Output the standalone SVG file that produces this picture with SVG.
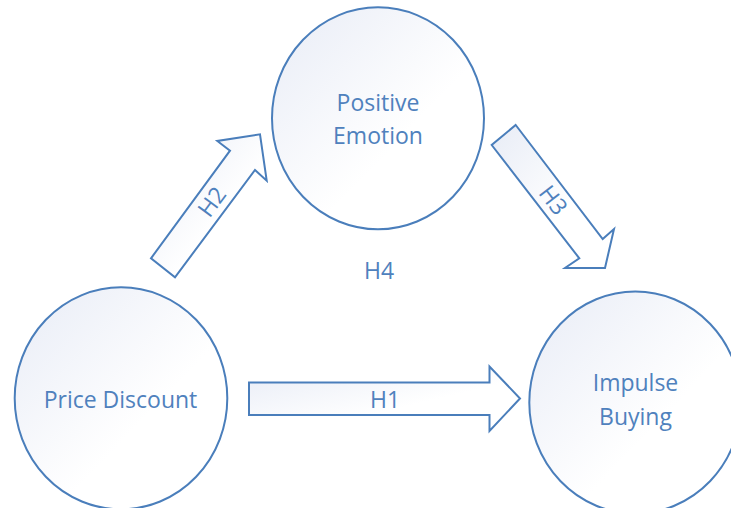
<svg xmlns="http://www.w3.org/2000/svg" width="731" height="508" viewBox="0 0 731 508">
<style>
.shape{stroke:#4A7EBB;stroke-width:2;fill:url(#g);stroke-linejoin:miter}
.lbl{font-family:"Open Sans","Noto Sans",sans-serif;font-size:23px;fill:#4F81BD;text-anchor:middle}
</style>
<defs>
<linearGradient id="g" x1="0" y1="0" x2="1" y2="1">
<stop offset="0" stop-color="#E8ECF6"/>
<stop offset="0.6" stop-color="#FFFFFF"/>
<stop offset="1" stop-color="#FFFFFF"/>
</linearGradient>
</defs>
<rect width="731" height="508" fill="#FFFFFF"/>
<g id="node-positive-emotion">
<ellipse class="shape" cx="378" cy="118.3" rx="106" ry="111"/>
<text class="lbl" x="378" y="111">Positive</text>
<text class="lbl" x="378" y="144">Emotion</text>
</g>
<g id="node-price-discount">
<ellipse class="shape" cx="121" cy="398.3" rx="106.3" ry="111"/>
<text class="lbl" x="120.5" y="408.3">Price Discount</text>
</g>
<g id="node-impulse-buying">
<ellipse class="shape" cx="635.3" cy="402.5" rx="106" ry="111"/>
<text class="lbl" x="635.5" y="391">Impulse</text>
<text class="lbl" x="635.5" y="425">Buying</text>
</g>
<g id="connectors">
<g id="arrow-h1">
<polygon class="shape" points="249,382.5 489.5,382.5 489.5,366.5 520,398.5 489.5,431 489.5,415 249,415"/>
<text class="lbl" x="385" y="407.5">H1</text>
</g>
<g id="arrow-h2">
<polygon class="shape" points="151,258.3 230,150.7 217.3,141 260,134.3 266.7,180.7 255,170 175,277.3"/>
<text class="lbl" transform="translate(211.8,201.7) rotate(-53.6)" x="0" y="8.3">H2</text>
</g>
<g id="arrow-h3">
<polygon class="shape" points="515.7,125 602.7,239 614,229 605,268 565,268 579.3,258.3 491.7,145"/>
<text class="lbl" transform="translate(553.5,200) rotate(52.4)" x="0" y="8.3">H3</text>
</g>
<text id="label-h4" class="lbl" x="379" y="279.3">H4</text>
</g>
</svg>
